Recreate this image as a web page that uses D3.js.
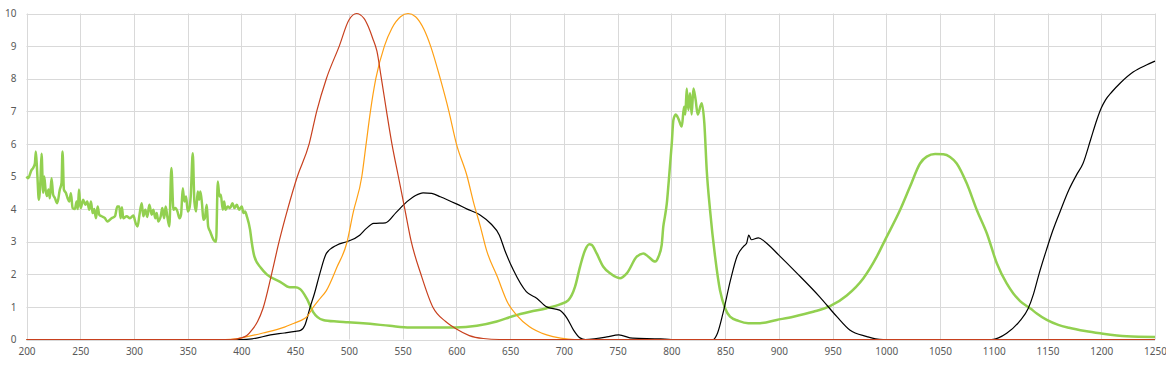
<!DOCTYPE html>
<html>
<head>
<meta charset="utf-8">
<script src="https://cdn.jsdelivr.net/npm/d3@7"></script>
<style>
  html, body { margin: 0; padding: 0; background: #fff; }
</style>
</head>
<body>
<div id="content"></div>
<script>
// axis ticks
var xTicks = [200, 250, 300, 350, 400, 450, 500, 550, 600, 650, 700, 750, 800, 850, 900, 950, 1000, 1050, 1100, 1150, 1200, 1250];
var yTicks = [0, 1, 2, 3, 4, 5, 6, 7, 8, 9, 10];

// green series (thick)
var greenX = [200, 201.5, 204.7, 206, 207.8, 208.7, 210, 211.5, 213, 214, 215.5, 216.5, 217.7, 219, 220.5, 221.7, 223.3, 224.8, 226.4, 228.6, 231, 232.6, 233.5, 234.8, 236.6, 238.2, 239.8, 241.3, 242.9, 245, 246.6, 247.8, 248.8, 250.3, 252.8, 254.7, 256.5, 258.4, 260, 261.5, 263, 264.6, 266.2, 267.7, 269.9, 273, 275.2, 279.2, 282.3, 284.5, 286.3, 287.6, 288.8, 290, 293.2, 296.3, 299.4, 301.6, 303.4, 305, 307.2, 308.7, 310.6, 312.4, 314.3, 316.5, 318, 319.9, 321.1, 322.7, 324.9, 326.4, 328, 329.5, 331, 332.9, 334.8, 336.7, 338.5, 340.4, 342.3, 343.8, 345.4, 346.9, 348.5, 350, 351.6, 352.8, 354.7, 356.2, 357.8, 359.3, 360.6, 361.8, 363.4, 364.6, 365.9, 367.7, 369, 370.8, 374, 376.4, 378, 379.5, 380.8, 382.6, 383.9, 385.1, 387.3, 389.5, 391.6, 393.5, 395.7, 397.8, 400.3, 401.9, 403.4, 405, 408, 409.5, 412, 418, 423.5, 436, 445, 450, 454.5, 460.7, 466.6, 476, 488.6, 499, 519.6, 538, 556.8, 581.6, 599, 619, 637.5, 653, 668.5, 684, 696.4, 704, 710.4, 715, 719.7, 723.7, 725.9, 730.5, 736.7, 743, 752.2, 758.5, 767.8, 774, 778.6, 785, 788, 791, 792.5, 794, 795.8, 797.4, 800.4, 801.9, 804, 806.6, 809.7, 811.8, 813, 814.3, 815.8, 817.4, 818.9, 820.5, 822.6, 824.5, 828.2, 830.7, 832.9, 836, 840.7, 845.3, 850, 854.6, 862.4, 871.6, 882.5, 898, 913.5, 932, 947.6, 963.2, 978.7, 991.1, 998.8, 1012.8, 1022.1, 1031.4, 1037.6, 1045.4, 1053, 1059.3, 1065.5, 1074.8, 1084.1, 1093.5, 1102.8, 1112, 1118, 1124.5, 1134.1, 1140, 1149.3, 1160, 1170, 1185, 1199, 1223.7, 1250];
var greenY = [5.0, 4.95, 5.2, 5.25, 5.4, 5.77, 5.1, 4.29, 4.9, 5.7, 4.5, 5.0, 4.6, 4.4, 4.6, 4.33, 4.95, 4.44, 4.34, 4.18, 4.6, 4.8, 5.77, 4.6, 4.5, 4.34, 4.23, 4.49, 4.03, 4.0, 4.23, 4.0, 4.6, 4.03, 4.29, 4.13, 4.23, 3.98, 4.23, 3.88, 4.0, 3.72, 4.08, 3.83, 3.78, 3.72, 3.62, 3.72, 3.78, 4.08, 4.08, 3.72, 4.06, 3.72, 3.78, 3.72, 3.8, 3.57, 3.47, 3.8, 4.18, 3.78, 3.98, 3.76, 4.13, 3.83, 3.98, 3.72, 3.88, 3.62, 3.78, 4.03, 3.72, 4.08, 3.78, 3.47, 5.26, 3.98, 4.03, 3.93, 3.72, 3.83, 4.64, 4.23, 4.39, 3.93, 4.03, 4.39, 5.71, 4.23, 3.93, 4.54, 4.29, 4.54, 4.13, 3.67, 3.72, 4.13, 3.47, 3.32, 3.06, 3.0, 4.85, 4.39, 4.44, 3.98, 4.23, 3.98, 4.08, 4.03, 4.18, 4.03, 4.13, 3.98, 4.08, 3.88, 3.93, 3.78, 3.37, 3.0, 2.55, 2.2, 2.0, 1.77, 1.6, 1.6, 1.55, 1.26, 0.85, 0.6, 0.55, 0.53, 0.48, 0.42, 0.37, 0.37, 0.37, 0.42, 0.55, 0.72, 0.85, 0.96, 1.08, 1.2, 1.62, 2.23, 2.74, 2.92, 2.9, 2.64, 2.23, 2.03, 1.88, 2.03, 2.54, 2.64, 2.54, 2.39, 2.54, 2.9, 3.46, 3.77, 4.18, 4.79, 6.02, 6.73, 6.9, 6.77, 6.53, 7.14, 6.9, 7.7, 7.04, 7.55, 6.9, 7.7, 7.35, 6.9, 7.25, 6.63, 5.2, 3.97, 2.54, 1.5, 0.96, 0.7, 0.57, 0.5, 0.5, 0.6, 0.7, 0.85, 1.02, 1.35, 1.88, 2.54, 3.05, 3.97, 4.69, 5.4, 5.61, 5.69, 5.68, 5.6, 5.4, 4.79, 3.98, 3.26, 2.34, 1.72, 1.42, 1.18, 0.95, 0.8, 0.6, 0.45, 0.36, 0.26, 0.19, 0.1, 0.08];

// black series
var blackX = [200, 400, 410, 427, 440, 450, 455, 459, 464, 468, 473, 479, 489, 498, 510, 516, 523, 534, 544, 554, 562, 569, 577, 585, 600, 610, 622, 632, 640, 645, 653, 665, 675, 684, 696, 703, 709, 715, 720, 730, 740, 751, 764, 790, 800, 839, 843, 848, 855, 861, 867, 870, 872, 874.5, 881, 887, 900, 917, 938, 954, 966, 982, 990, 997, 1098, 1112, 1124.5, 1132, 1137, 1142, 1149, 1155, 1162, 1170, 1177, 1183, 1190, 1196, 1200, 1204, 1210, 1217.5, 1230, 1242, 1250];
var blackY = [0, 0, 0.02, 0.14, 0.2, 0.25, 0.28, 0.44, 1.0, 1.42, 2.03, 2.64, 2.9, 3.0, 3.2, 3.4, 3.56, 3.58, 3.9, 4.23, 4.42, 4.5, 4.48, 4.38, 4.16, 4.0, 3.82, 3.55, 3.2, 2.74, 2.13, 1.47, 1.26, 1.0, 0.9, 0.65, 0.29, 0.05, 0, 0.03, 0.08, 0.14, 0.04, 0.02, 0, 0, 0.2, 0.8, 1.82, 2.54, 2.85, 2.95, 3.2, 3.06, 3.12, 3.0, 2.59, 2.03, 1.31, 0.7, 0.29, 0.09, 0.02, 0, 0, 0.19, 0.58, 0.95, 1.4, 2.0, 2.75, 3.35, 3.95, 4.6, 5.05, 5.4, 6.12, 6.75, 7.1, 7.35, 7.6, 7.86, 8.21, 8.42, 8.54];

// orange series
var orangeX = [200, 385, 395, 400, 420, 440, 449, 455, 461, 467, 473, 479, 489, 498, 504, 512, 516, 520, 525, 533, 540, 548, 555, 562, 570, 576, 585, 593, 600, 610, 616, 622, 628, 638, 648, 656, 668, 684, 697, 710, 1250];
var orangeY = [0, 0, 0.02, 0.05, 0.2, 0.38, 0.5, 0.58, 0.7, 1.0, 1.25, 1.5, 2.23, 2.96, 3.9, 5, 6, 7, 8, 9, 9.55, 9.9, 10, 9.9, 9.5, 9, 8, 7, 6, 5, 4.2, 3.5, 2.74, 1.93, 1.11, 0.75, 0.39, 0.14, 0.04, 0, 0];

// red series
var redX = [200, 390, 400, 405, 410, 415, 420, 428, 435, 443, 452, 463, 470, 479, 491, 500, 507, 514, 518, 522, 526, 530, 535, 540, 546, 552, 558, 567, 578, 590, 600, 612, 625, 640, 1250];
var redY = [0, 0, 0.05, 0.12, 0.3, 0.55, 0.95, 2, 3, 4, 5, 6, 7, 8, 9, 9.8, 10, 9.85, 9.6, 9.25, 8.85, 8.05, 7, 6, 5, 4, 3, 2, 1, 0.55, 0.32, 0.12, 0.03, 0, 0];

var W = 1166, H = 366;
var pLeft = 26.5, pRight = 1155, pTop = 13.5, pBottom = 339.5;

var x = d3.scaleLinear().domain([200, 1250]).range([pLeft, pRight]);
var y = d3.scaleLinear().domain([0, 10]).range([pBottom, pTop]);

var svg = d3.select("#content").append("svg")
    .attr("width", W)
    .attr("height", H);

// gridlines
svg.append("g").selectAll("line")
    .data(yTicks).enter().append("line")
    .attr("x1", pLeft).attr("x2", pRight)
    .attr("y1", d => Math.round(y(d)) + 0.5).attr("y2", d => Math.round(y(d)) + 0.5)
    .attr("stroke", "#d9d9d9").attr("stroke-width", 1);
svg.append("g").selectAll("line")
    .data(xTicks).enter().append("line")
    .attr("y1", pTop).attr("y2", pBottom)
    .attr("x1", d => Math.round(x(d)) + 0.5).attr("x2", d => Math.round(x(d)) + 0.5)
    .attr("stroke", "#d9d9d9").attr("stroke-width", 1);

// axes, text only
svg.append("g")
    .attr("transform", "translate(0," + (pBottom + 4) + ")")
    .call(d3.axisBottom(x).tickValues(xTicks).tickFormat(d3.format("d")).tickSize(0).tickPadding(4));
svg.append("g")
    .attr("transform", "translate(" + (pLeft - 10) + ",0)")
    .call(d3.axisLeft(y).tickValues(yTicks).tickFormat(d3.format("d")).tickSize(0).tickPadding(0));
svg.selectAll(".domain").remove();
svg.selectAll(".tick text").attr("fill", "#595959")
    .style("font-family", "'Noto Sans', 'Liberation Sans', sans-serif").style("font-size", "10px");

function series(xs, ys) {
  return xs.map((v, i) => [v, ys[i]]);
}

var smooth = d3.line()
    .curve(d3.curveMonotoneX)
    .x(d => x(d[0]))
    .y(d => y(d[1]));

svg.append("path")
    .datum(series(greenX, greenY))
    .attr("d", smooth)
    .attr("fill", "none")
    .attr("stroke", "#92d050")
    .attr("stroke-width", 2.5)
    .attr("stroke-linejoin", "round");

svg.append("path")
    .datum(series(blackX, blackY))
    .attr("d", smooth)
    .attr("fill", "none")
    .attr("stroke", "#000")
    .attr("stroke-width", 1.2);

svg.append("path")
    .datum(series(orangeX, orangeY))
    .attr("d", smooth)
    .attr("fill", "none")
    .attr("stroke", "#ffa014")
    .attr("stroke-width", 1.2);

svg.append("path")
    .datum(series(redX, redY))
    .attr("d", smooth)
    .attr("fill", "none")
    .attr("stroke", "#c8401e")
    .attr("stroke-width", 1.2);
</script>
</body>
</html>
